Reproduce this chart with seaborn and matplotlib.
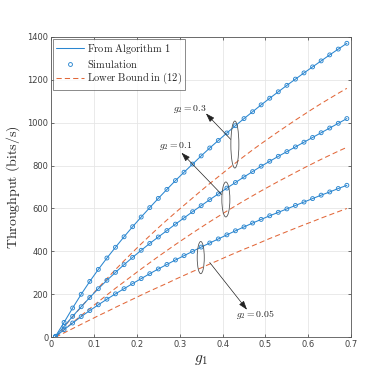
import numpy as np
import pandas as pd
import seaborn as sns
import matplotlib.pyplot as plt
from matplotlib.lines import Line2D
from matplotlib.patches import Ellipse

# g1 grid (same for every curve)
g1 = [0.01, 0.03, 0.05, 0.07, 0.09, 0.11, 0.13, 0.15, 0.17, 0.19, 0.21, 0.23,
      0.25, 0.27, 0.29, 0.31, 0.33, 0.35, 0.37, 0.39, 0.41, 0.43, 0.45, 0.47,
      0.49, 0.51, 0.53, 0.55, 0.57, 0.59, 0.61, 0.63, 0.65, 0.67, 0.69]

# throughput from Algorithm 1 / simulation
thr_g03 = [4, 69, 136, 200, 260, 316, 369, 419, 468, 515, 560, 604,
           647, 689, 730, 769, 807, 845, 882, 917, 952, 986, 1019, 1051,
           1083, 1114, 1144, 1174, 1203, 1232, 1260, 1288, 1316, 1343, 1370]
thr_g01 = [2, 50, 97, 142, 185, 226, 265, 302, 338, 372, 405, 437,
           467, 497, 527, 556, 585, 613, 641, 668, 695, 721, 747, 772,
           797, 820, 843, 865, 887, 909, 931, 953, 975, 997, 1019]
thr_g005 = [2, 35, 66, 96, 124, 151, 177, 202, 226, 250, 273, 296,
            318, 339, 360, 380, 400, 420, 439, 458, 477, 496, 514, 532,
            549, 566, 582, 598, 614, 630, 646, 662, 677, 693, 708]

# lower bound in (12)
lb_g03 = [0, 48, 95, 141, 186, 230, 273, 315, 356, 396, 435, 473,
          510, 546, 581, 615, 649, 683, 716, 748, 780, 812, 843, 873,
          902, 930, 958, 985, 1012, 1038, 1064, 1089, 1113, 1137, 1160]
lb_g01 = [0, 34, 68, 101, 133, 165, 197, 228, 258, 288, 318, 347,
          376, 404, 432, 459, 486, 512, 538, 563, 588, 612, 636, 659,
          682, 704, 726, 747, 768, 789, 809, 829, 848, 867, 885]
lb_g005 = [0, 20, 40, 60, 80, 100, 119, 139, 158, 177, 196, 215,
           233, 251, 270, 288, 306, 323, 341, 358, 376, 393, 410, 426,
           443, 460, 476, 492, 508, 524, 539, 555, 570, 585, 600]

g2_labels = ["0.3", "0.1", "0.05"]

blue = "#2a86d0"
orange = "#e2683a"

thr = pd.DataFrame({
    "g1": g1 * 3,
    "thr": thr_g03 + thr_g01 + thr_g005,
    "g2": sum([[g] * len(g1) for g in g2_labels], []),
})
lb = pd.DataFrame({
    "g1": g1 * 3,
    "thr": lb_g03 + lb_g01 + lb_g005,
    "g2": sum([[g] * len(g1) for g in g2_labels], []),
})

sns.set_theme(style="ticks")
plt.rcParams["mathtext.fontset"] = "cm"
plt.rcParams["font.family"] = ["DejaVu Sans"]

fig = plt.figure(figsize=(3.88, 3.88), dpi=100)
ax = fig.add_axes([0.132, 0.131, 0.773, 0.774])

sns.lineplot(data=lb, x="g1", y="thr", units="g2", estimator=None, color=orange,
             linewidth=0.75, dashes=False, ax=ax, legend=False)
for l in ax.get_lines():
    l.set_linestyle((0, (5, 3)))
sns.lineplot(data=thr, x="g1", y="thr", units="g2", estimator=None, color=blue,
             linewidth=0.75, ax=ax, legend=False)
sns.scatterplot(data=thr, x="g1", y="thr", marker="o", s=8, facecolor="none",
                edgecolor=blue, linewidth=0.65, ax=ax, legend=False, zorder=3)

ax.set_xlim(0, 0.7)
ax.set_ylim(0, 1400)
ax.set_xticks([0, 0.1, 0.2, 0.3, 0.4, 0.5, 0.6, 0.7])
ax.set_xticklabels(["0", "0.1", "0.2", "0.3", "0.4", "0.5", "0.6", "0.7"])
ax.set_yticks(range(0, 1401, 200))
ax.grid(True, color="#e6e6e6", linewidth=0.6)
ax.tick_params(direction="in", length=2.5, width=0.6, labelsize=6,
               labelcolor="#404040", color="#555555", top=True, right=True, pad=2)
for s in ax.spines.values():
    s.set_color("#555555")
    s.set_linewidth(0.6)

ax.set_xlabel(r"$g_1$", fontsize=11, labelpad=2)
ax.set_ylabel(r"$\mathrm{Throughput\ (bits/s)}$", fontsize=10, labelpad=4)

# ellipses and arrows
ax.add_patch(Ellipse((0.4286, 898), 0.0187, 219, fill=False, edgecolor="#555555", linewidth=0.6, zorder=4))
ax.add_patch(Ellipse((0.4076, 642), 0.0187, 163, fill=False, edgecolor="#555555", linewidth=0.6, zorder=4))
ax.add_patch(Ellipse((0.349, 371), 0.0165, 150, fill=False, edgecolor="#555555", linewidth=0.6, zorder=4))

arrow = dict(arrowstyle="-|>,head_length=0.45,head_width=0.15", color="#222222", lw=0.5,
             shrinkA=0, shrinkB=0)
ax.annotate("", xy=(0.361, 1043), xytext=(0.419, 922), arrowprops=arrow)
ax.annotate("", xy=(0.304, 860), xytext=(0.398, 665), arrowprops=arrow)
ax.annotate("", xy=(0.457, 128), xytext=(0.370, 348), arrowprops=arrow)
ax.text(0.324, 1064, r"$g_2 = 0.3$", fontsize=7, ha="center", va="center", color="#222222")
ax.text(0.291, 889, r"$g_2 = 0.1$", fontsize=7, ha="center", va="center", color="#222222")
ax.text(0.475, 105, r"$g_2 = 0.05$", fontsize=7, ha="center", va="center", color="#222222")

handles = [
    Line2D([], [], color=blue, linewidth=0.75),
    Line2D([], [], color=blue, linestyle="none", marker="o", markersize=2.8,
           markerfacecolor="none", markeredgewidth=0.65),
    Line2D([], [], color=orange, linewidth=0.75, linestyle=(0, (5, 3))),
]
labels = [r"$\mathrm{From\ Algorithm\ 1}$", r"$\mathrm{Simulation}$", r"$\mathrm{Lower\ Bound\ in\ (12)}$"]
leg = ax.legend(handles, labels, loc="upper left", fontsize=7.5, frameon=True,
                fancybox=False, edgecolor="#555555", handlelength=2.6,
                handletextpad=0.3, borderpad=0.3, labelspacing=0.15,
                borderaxespad=0.2)
leg.get_frame().set_linewidth(0.6)

fig.savefig("out.png", dpi=100)
